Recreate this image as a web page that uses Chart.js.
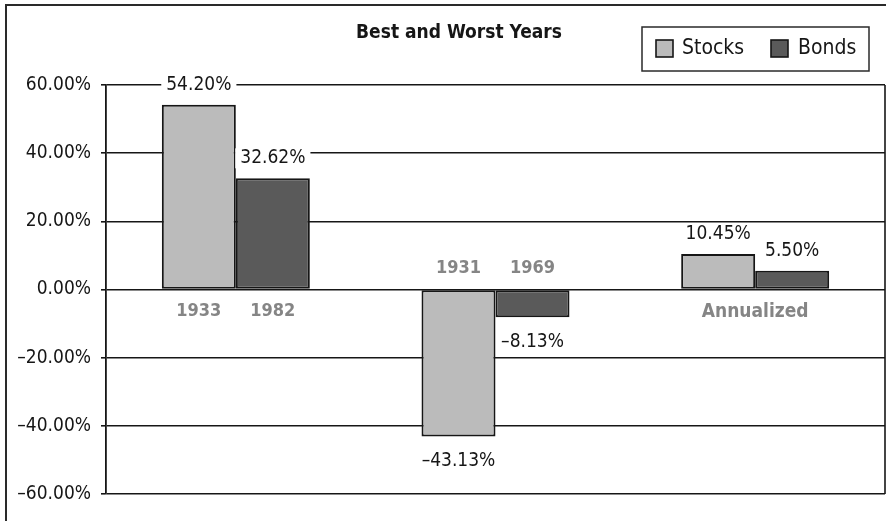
<!DOCTYPE html>
<html>
<head>
<meta charset="utf-8">
<script src="https://cdn.jsdelivr.net/npm/chart.js@4.4.1/dist/chart.umd.min.js"></script>
<style>
  html, body { margin: 0; padding: 0; background: #fff; }
  #wrap { width: 886px; height: 521px; }
</style>
</head>
<body>
<div id="wrap"><canvas id="chart" width="886" height="521"></canvas></div>
<script>
// chart data
const categories = ["Best year", "Worst year", "Annualized"];
const stocks = [54.20, -43.13, 10.45];
const bonds = [32.62, -8.13, 5.50];
const stockYears = ["1933", "1931", ""];
const bondYears = ["1982", "1969", ""];
const groupLabels = ["", "", "Annualized"];
const yMin = -60;
const yMax = 60;
const yStep = 20;

const FONT = "'Liberation Sans Narrow', 'Arial Narrow', 'DejaVu Sans Condensed', 'Roboto', sans-serif";
const INK = "#161616";

function fmtPct(value) {
  const sign = value < 0 ? "\u2013" : "";
  return `${sign}${Math.abs(value).toFixed(2)}%`;
}

function labelWithBg(ctx, text, x, y) {
  const w = ctx.measureText(text).width;
  ctx.fillStyle = "#fff";
  ctx.fillRect(x - w / 2 - 5, y - 10, w + 10, 20);
  ctx.fillStyle = INK;
  ctx.fillText(text, x, y);
}

const annotations = {
  id: "annotations",
  afterDatasetsDraw(chart) {
    const ctx = chart.ctx;
    ctx.save();
    ctx.textAlign = "center";
    ctx.textBaseline = "middle";
    chart.data.datasets.forEach((ds, i) => {
      const meta = chart.getDatasetMeta(i);
      const years = i === 0 ? stockYears : bondYears;
      meta.data.forEach((bar, j) => {
        const v = ds.data[j];
        ctx.font = `19px ${FONT}`;
        if (v >= 0) labelWithBg(ctx, fmtPct(v), bar.x, bar.y - 20);
        else labelWithBg(ctx, fmtPct(v), bar.x, bar.y + 25);
        if (years[j]) {
          ctx.font = `bold 18px ${FONT}`;
          ctx.fillStyle = "#858585";
          ctx.fillText(years[j], bar.x, v >= 0 ? bar.base + 23 : bar.base - 22);
        }
      });
    });
    // group labels without a year (Annualized)
    const xScale = chart.scales.x;
    const yScale = chart.scales.y;
    ctx.font = `bold 19px ${FONT}`;
    ctx.fillStyle = "#858585";
    groupLabels.forEach((label, j) => {
      if (label) ctx.fillText(label, xScale.getPixelForValue(j), yScale.getPixelForValue(0) + 23);
    });
    ctx.restore();
  },
  afterDraw(chart) {
    const ctx = chart.ctx;
    const area = chart.chartArea;
    ctx.save();
    // outer frame
    ctx.strokeStyle = "#2a2a2a";
    ctx.lineWidth = 2;
    ctx.strokeRect(6, 5, 1000, 1000);
    // plot area right border
    ctx.lineWidth = 1.6;
    ctx.strokeStyle = INK;
    ctx.beginPath();
    ctx.moveTo(area.right, area.top);
    ctx.lineTo(area.right, area.bottom);
    ctx.stroke();
    // title
    ctx.fillStyle = INK;
    ctx.font = `bold 19px ${FONT}`;
    ctx.textAlign = "center";
    ctx.textBaseline = "middle";
    ctx.fillText("Best and Worst Years", 459, 33);
    // legend
    ctx.strokeStyle = "#2a2a2a";
    ctx.lineWidth = 1.5;
    ctx.strokeRect(642, 27, 227, 44);
    ctx.font = `21px ${FONT}`;
    ctx.textAlign = "left";
    const items = [[656, 682], [771, 798]];
    chart.data.datasets.forEach((ds, i) => {
      const [sx, tx] = items[i];
      ctx.fillStyle = ds.backgroundColor;
      ctx.fillRect(sx, 40, 17, 17);
      ctx.strokeStyle = INK;
      ctx.lineWidth = 1.6;
      ctx.strokeRect(sx, 40, 17, 17);
      ctx.fillStyle = INK;
      ctx.fillText(ds.label, tx, 49);
    });
    ctx.restore();
  },
};

new Chart(document.getElementById("chart"), {
  type: "bar",
  data: {
    labels: categories,
    datasets: [
      { label: "Stocks", data: stocks, backgroundColor: "#bbbbbb", borderColor: INK, borderWidth: 2, borderSkipped: false },
      { label: "Bonds", data: bonds, backgroundColor: "#5a5a5a", borderColor: INK, borderWidth: 2, borderSkipped: false },
    ],
  },
  options: {
    responsive: false,
    animation: false,
    devicePixelRatio: 1,
    categoryPercentage: 0.57,
    barPercentage: 1,
    layout: { padding: { top: 85, left: 0, right: 1, bottom: 27 } },
    plugins: {
      legend: { display: false },
      title: { display: false },
      tooltip: { enabled: false },
    },
    scales: {
      x: { display: false },
      y: {
        min: yMin,
        max: yMax,
        afterFit: (scale) => { scale.width = 106; },
        ticks: {
          stepSize: yStep,
          color: INK,
          padding: 10,
          font: { family: FONT, size: 19 },
          callback: (value) => fmtPct(value),
        },
        grid: { color: INK, lineWidth: 1.6, tickLength: 5 },
        border: { color: INK, width: 1.8 },
      },
    },
  },
  plugins: [annotations],
});
</script>
</body>
</html>
